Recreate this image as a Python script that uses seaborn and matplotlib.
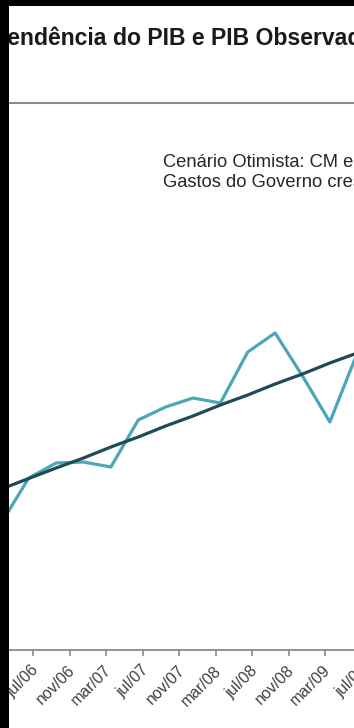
import matplotlib
matplotlib.use("Agg")
import matplotlib.pyplot as plt
import matplotlib.transforms as mtransforms
import seaborn as sns
import pandas as pd
from matplotlib.patches import Rectangle

# ---------------- data ----------------
title_text = "Tendência do PIB e PIB Observado"
note_line1 = "Cenário Otimista: CM e Exportações crescem 5% a.a."
note_line2 = "Gastos do Governo crescem 3% a.a."

# months counted from jul/06 (quarterly observations)
obs_month = [-3.5, -0.5, 2.5, 5.5, 8.5, 11.5, 14.5, 17.5, 20.5, 23.5, 26.5, 29.5, 32.5, 35.5]
pib_observado = [127, 172, 187, 188, 183, 230, 243, 252, 247, 298, 317, 274, 228, 297]
pib_tendencia = [161, 171.5, 182, 192, 203, 213, 224, 234, 245, 255, 266, 276, 287, 297]

tick_month = [0, 4, 8, 12, 16, 20, 24, 28, 32, 36]
tick_labels = ["jul/06", "nov/06", "mar/07", "jul/07", "nov/07",
               "mar/08", "jul/08", "nov/08", "mar/09", "jul/09"]

df = pd.DataFrame({
    "mes": obs_month * 2,
    "valor": pib_observado + pib_tendencia,
    "serie": ["PIB Observado"] * len(obs_month) + ["Tendência"] * len(obs_month),
})

# ---------------- style ----------------
sns.set_style("white")
plt.rcParams["font.family"] = ["Liberation Sans", "DejaVu Sans"]

W, H = 354, 728
fig = plt.figure(figsize=(W / 100, H / 100), dpi=100, facecolor="white")

# axes: spans beyond the right edge (chart is a crop)
ax_left_px, ax_right_px = 0, 425
ax_top_px, ax_bottom_px = 103, 650
ax = fig.add_axes([ax_left_px / W, 1 - ax_bottom_px / H,
                   (ax_right_px - ax_left_px) / W, (ax_bottom_px - ax_top_px) / H])
ax.set_facecolor("white")

sns.lineplot(data=df, x="mes", y="valor", hue="serie",
             palette={"PIB Observado": "#4BA6BA", "Tendência": "#1E4B55"},
             linewidth=2.3, ax=ax, legend=False, sort=False)

px_per_month = 9.125
x0_month = -33.3 / px_per_month
ax.set_xlim(x0_month, x0_month + (ax_right_px - ax_left_px) / px_per_month)
ax.set_ylim(0, ax_bottom_px - ax_top_px)

ax.set_xticks(tick_month)
ax.set_xticklabels(tick_labels, rotation=45, ha="right", va="center",
                   rotation_mode="anchor")
ax.set_yticks([])
ax.set_xlabel("")
ax.set_ylabel("")
ax.tick_params(axis="x", direction="out", length=4, width=1.2, color="#8a8a8a",
               labelsize=11.5, labelcolor="#404040", pad=9, bottom=True)
shift = mtransforms.ScaledTranslation(3 / 100, 0, fig.dpi_scale_trans)
for lab in ax.get_xticklabels():
    lab.set_transform(lab.get_transform() + shift)

for s in ("left", "right"):
    ax.spines[s].set_visible(False)
ax.spines["top"].set_color("#8a8a8a")
ax.spines["top"].set_linewidth(1.5)
ax.spines["bottom"].set_color("#8a8a8a")
ax.spines["bottom"].set_linewidth(1.3)

# title (cropped on both sides)
fig.text(-5 / W, 1 - 45 / H, title_text, fontsize=16.6, fontweight="bold",
         color="#1a1a1a", ha="left", va="baseline")

# annotation
fig.text(163 / W, 1 - 167 / H, note_line1, fontsize=13.2, color="#262626",
         ha="left", va="baseline")
fig.text(163 / W, 1 - 187 / H, note_line2, fontsize=13.2, color="#262626",
         ha="left", va="baseline")

# black crop borders
fig.add_artist(Rectangle((0, 0), 9 / W, 1, transform=fig.transFigure,
                         facecolor="black", edgecolor="none", zorder=100))
fig.add_artist(Rectangle((0, 1 - 6 / H), 1, 6 / H, transform=fig.transFigure,
                         facecolor="black", edgecolor="none", zorder=100))

fig.savefig("out.png", dpi=100, facecolor="white")
